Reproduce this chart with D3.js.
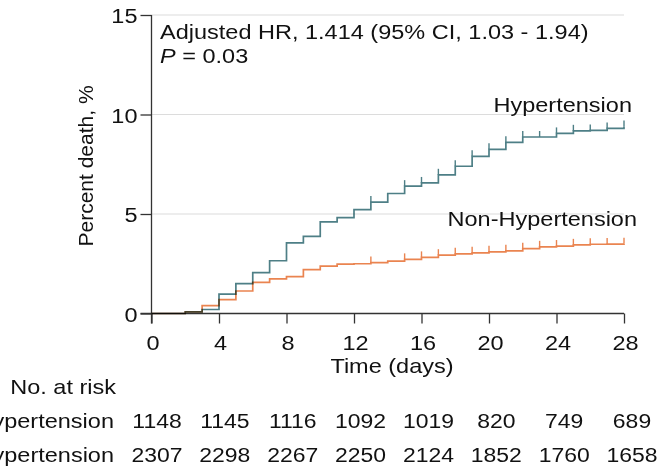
<!DOCTYPE html>
<html><head><meta charset="utf-8">
<script src="https://cdn.jsdelivr.net/npm/d3@7"></script>
<style>
html,body{margin:0;padding:0;background:#fff;}
svg{display:block;font-family:"Liberation Sans",Arial,Helvetica,sans-serif;}
</style></head>
<body><svg id="chart" width="659" height="470"></svg>
<script>
const days = [0,1,2,3,4,5,6,7,8,9,10,11,12,13,14,15,16,17,18,19,20,21,22,23,24,25,26,27,28];
const hypertension = [0,0,0.08,0.2,0.97,1.5,2.05,2.65,3.55,3.88,4.6,4.82,5.22,5.6,6.03,6.4,6.56,6.97,7.4,7.9,8.25,8.6,8.87,8.87,9.05,9.18,9.2,9.3,9.4];
const nonHypertension = [0,0,0.08,0.4,0.7,1.13,1.56,1.74,1.85,2.2,2.38,2.48,2.5,2.56,2.63,2.72,2.82,2.93,3.0,3.05,3.1,3.15,3.26,3.35,3.39,3.45,3.48,3.49,3.5];
const censorDays = [13,15,16,17,18,19,20,21,22,23,24,25,26,27,28];
const xTicks = [0,4,8,12,16,20,24,28];
const yTicks = [0,5,10,15];
const riskHypertension = [1148,1145,1116,1092,1019,820,749,689];
const riskNonHypertension = [2307,2298,2267,2250,2124,1852,1760,1658];
const seriesNames = ["Hypertension","Non-Hypertension"];
const colors = ["#4e7f86","#ea8450"];

const svg = d3.select("#chart");
const x = d3.scaleLinear().domain([0,28]).range([151.5,624]);
const y = d3.scaleLinear().domain([0,15]).range([313.5,15]);
const fs = 21, sx = 1.12;

function label(parent, px, py, anchor, size){
  return parent.append("g").attr("transform",`translate(${px},${py}) scale(${sx},1)`)
    .append("text").attr("text-anchor",anchor||"start").attr("font-size",size||fs).attr("fill","#111");
}

// gridlines
svg.append("g").selectAll("line").data(yTicks.filter(d=>d>0)).join("line")
  .attr("x1",x(0)).attr("x2",x(28)).attr("y1",d=>y(d)).attr("y2",d=>y(d))
  .attr("stroke","#dcdcdc").attr("stroke-width",1.2);

// y axis
const yAxis = svg.append("g").attr("transform",`translate(${x(0)},0)`)
  .call(d3.axisLeft(y).tickValues(yTicks).tickSize(11).tickFormat(""));
yAxis.select(".domain").attr("d",`M0,${y(15)}V${y(0)+10}`).attr("stroke","#333").attr("stroke-width",1.3);
yAxis.selectAll(".tick line").attr("stroke","#333").attr("stroke-width",1.3);
yAxis.selectAll(".tick").each(function(d){
  label(d3.select(this), -14, 7.5, "end").text(d);
});

// x axis
const xAxis = svg.append("g").attr("transform",`translate(0,${y(0)})`)
  .call(d3.axisBottom(x).tickValues(xTicks).tickSize(10).tickFormat(""));
xAxis.select(".domain").attr("d",`M${x(0)-11},0H${x(28)}`).attr("stroke","#333").attr("stroke-width",1.3);
xAxis.selectAll(".tick line").attr("stroke","#333").attr("stroke-width",1.3);
xAxis.selectAll(".tick").each(function(d){
  label(d3.select(this), 1, 36, "middle").text(d);
});

// lines
const line = d3.line().x((d,i)=>x(days[i])).y(d=>y(d)).curve(d3.curveStepAfter);
[hypertension,nonHypertension].forEach((vals,k)=>{
  svg.append("path").datum(vals).attr("d",line).attr("fill","none")
    .attr("stroke",colors[k]).attr("stroke-width",1.7).style("mix-blend-mode","multiply");
  svg.append("g").selectAll("line").data(censorDays).join("line")
    .attr("x1",d=>x(d)).attr("x2",d=>x(d))
    .attr("y1",d=>y(vals[days.indexOf(d)])).attr("y2",d=>y(vals[days.indexOf(d)])-6)
    .attr("stroke",colors[k]).attr("stroke-width",1.4);
});

// annotations
label(svg,160,39).text("Adjusted HR, 1.414 (95% CI, 1.03 - 1.94)");
const p = label(svg,160,63);
p.append("tspan").attr("font-style","italic").text("P");
p.append("tspan").text(" = 0.03");

label(svg,632,111.5,"end").text(seriesNames[0]);
label(svg,637,226,"end").text(seriesNames[1]);

// axis titles
svg.append("text").attr("transform",`translate(93,166) rotate(-90)`).attr("text-anchor","middle")
  .attr("font-size",fs).attr("fill","#111").text("Percent death, %");
label(svg,392,373,"middle").text("Time (days)");

// risk table
const xr = d3.scaleLinear().domain([0,28]).range([157,632]);
label(svg,116,394,"end").text("No. at risk");
[[riskHypertension,428],[riskNonHypertension,462]].forEach(([vals,yy],k)=>{
  label(svg,114,yy,"end").text(seriesNames[k]);
  vals.forEach((v,i)=>label(svg,xr(xTicks[i]),yy,"middle",20.5).text(v));
});
</script></body></html>
